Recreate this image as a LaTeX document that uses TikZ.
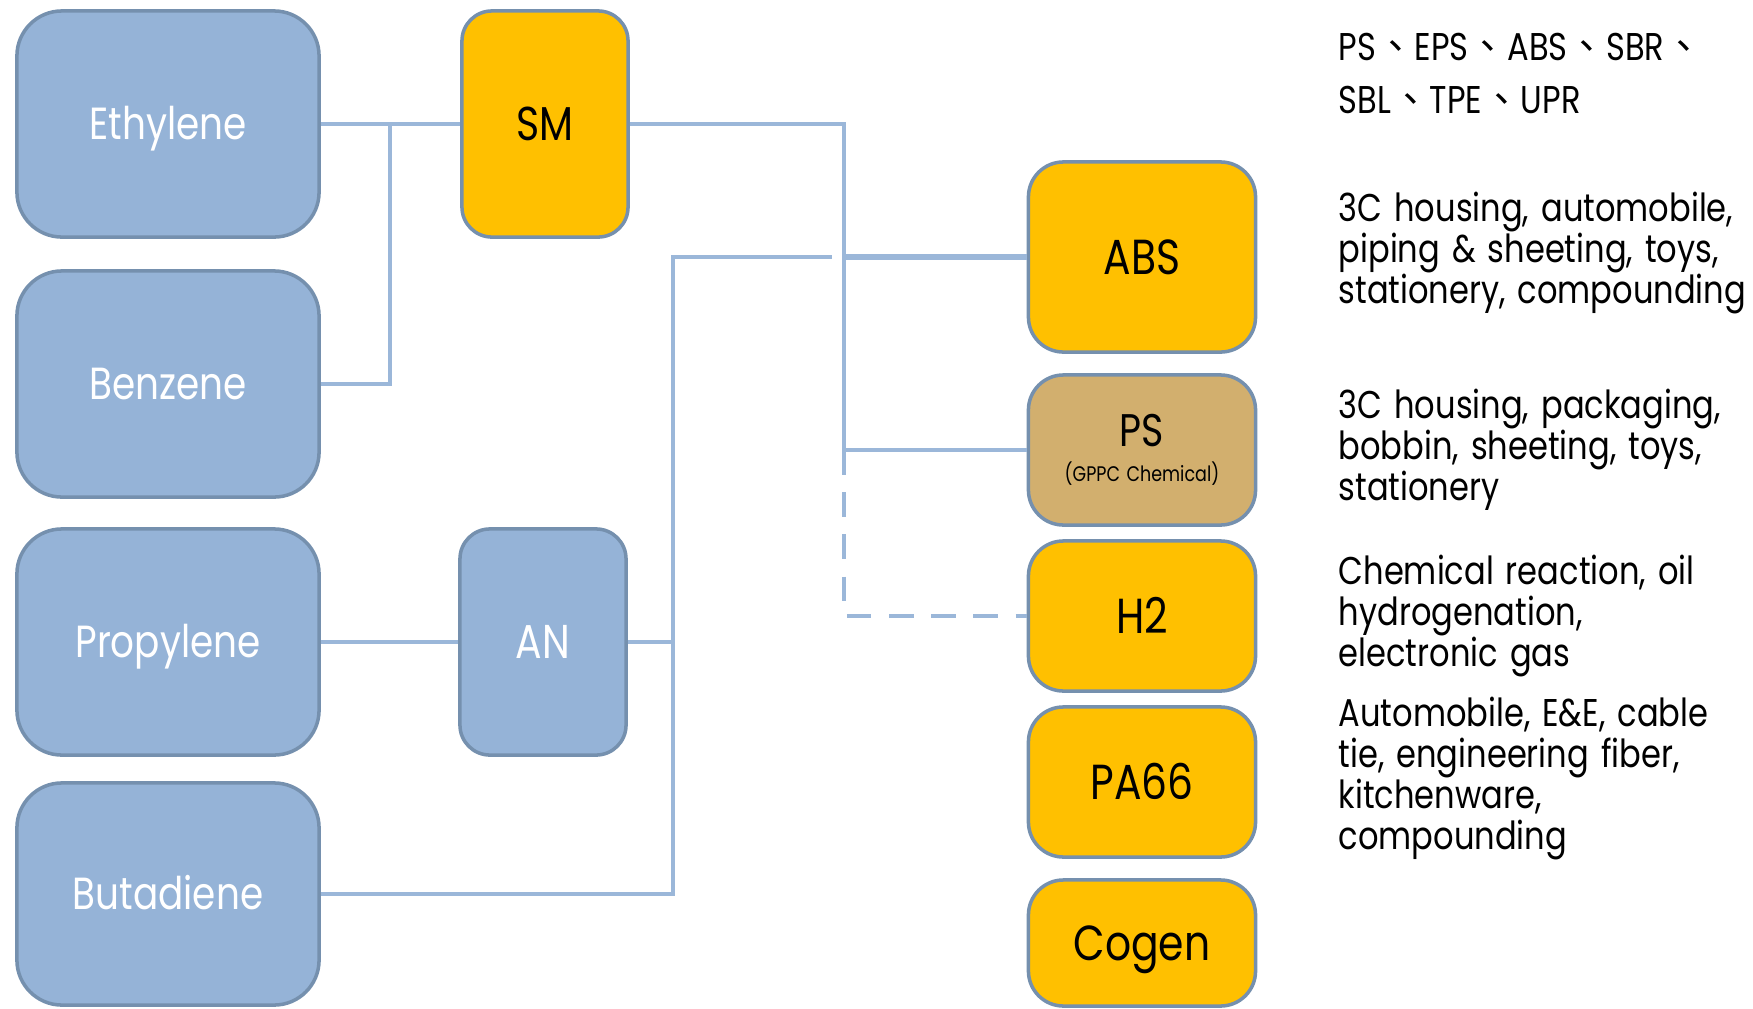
\documentclass[tikz,border=0pt]{standalone}
\usepackage{fontspec}
\setmainfont{Poppins}[FakeStretch=0.83,WordSpace=1.4]
\newfontfamily\cjkfont{Noto Sans CJK TC}
\definecolor{feedblue}{HTML}{95B3D7}
\definecolor{boxedge}{HTML}{7590AE}
\definecolor{linkblue}{HTML}{9BB7D9}
\definecolor{prodorange}{HTML}{FFC000}
\definecolor{pstan}{HTML}{D2AF6E}
\newcommand{\dun}{{\cjkfont 、}}

\begin{document}
\begin{tikzpicture}
[x=0.01cm,y=-0.01cm,%
  every node/.style={inner sep=0pt},%
  feed/.style={draw=boxedge,line width=1pt,fill=feedblue,rounded corners=0.45cm,%
    minimum width=3.02cm,minimum height=2.26cm,text=white,text height=8.9pt,text depth=0pt,%
    font=\fontsize{12.8}{14}\selectfont},%
  mid/.style={feed,rounded corners=0.3cm,minimum width=1.66cm,text height=9.4pt,%
    font=\fontsize{13.5}{15}\selectfont},%
  product/.style={draw=boxedge,line width=1pt,fill=prodorange,rounded corners=0.35cm,%
    minimum width=2.27cm,minimum height=1.5cm,text height=9.8pt,text depth=0pt,%
    font=\fontsize{14}{16}\selectfont},%
  usage/.style={anchor=north west,align=left,font=\fontsize{11}{11.7}\selectfont},%
  link/.style={draw=linkblue,line width=0.9pt}]
\useasboundingbox (0,0) rectangle (1753,1008);

\node[feed] (eth) at (168,124) {Ethylene};
\node[feed] (ben) at (168,384) {Benzene};
\node[feed] (pro) at (168,642) {Propylene};
\node[feed,minimum height=2.22cm] (but) at (168,894) {Butadiene};
\node[mid,fill=prodorange,text=black] (sm) at (545,124) {SM};
\node[mid] (an) at (543,642) {AN};

\node[product,minimum height=1.9cm] (abs) at (1142,257) {ABS};
\node[product,fill=pstan,text height=,text depth=,align=center] (ps) at (1142,450)
  {\fontsize{13}{14}\selectfont PS\\[-6pt]{\fontsize{6}{7}\selectfont(GPPC Chemical)}};
\node[product] (h2) at (1142,616) {H2};
\node[product] (pa) at (1142,782) {PA66};
\node[product,minimum height=1.26cm] (cog) at (1142,943) {Cogen};

\node[usage,font=\fontsize{11}{15.2}\selectfont] (u1) at (1338,32)
  {PS\dun EPS\dun ABS\dun SBR\dun\\SBL\dun TPE\dun UPR};
\node[usage] (u2) at (1338,191)
  {3C housing, automobile,\\piping \& sheeting, toys,\\stationery, compounding};
\node[usage] (u3) at (1338,388)
  {3C housing, packaging,\\bobbin, sheeting, toys,\\stationery};
\node[usage] (u4) at (1338,554)
  {Chemical reaction, oil\\hydrogenation,\\electronic gas};
\node[usage] (u5) at (1338,696)
  {Automobile, E\&E, cable\\tie, engineering fiber,\\kitchenware,\\compounding};

\coordinate (j1) at (390,124);
\coordinate (bus) at (844,124);
\coordinate (j2) at (673,257);
\coordinate (absin) at (832,257);

\draw[link] (eth.east) -- (sm.west);
\draw[link] (ben.east) -| (j1);
\draw[link] (pro.east) -- (an.west);
\draw[link] (sm.east) -- (bus) |- (ps.west);
\draw[link,dashed,dash pattern=on 7pt off 5pt] (bus |- ps.west) |- (h2.west);
\draw[link,line width=1.5pt] (bus |- abs.west) -- (abs.west);
\draw[link] (but.east) -| (j2) -- (absin);
\draw[link] (an.east) -- (an.east -| j2);
\end{tikzpicture}
\end{document}
